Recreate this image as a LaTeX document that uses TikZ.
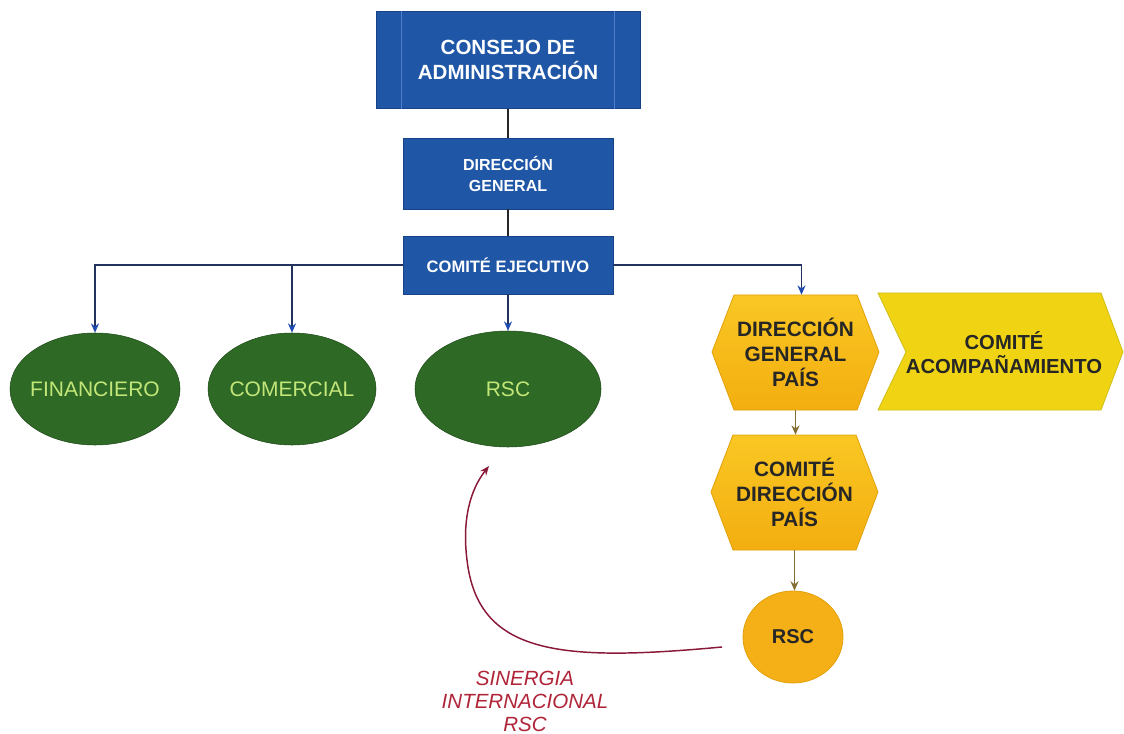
\documentclass[tikz,border=0pt]{standalone}
\usepackage{fontspec}
\setmainfont{Liberation Sans}
\usetikzlibrary{arrows.meta,shapes.geometric}
\def\pxu{0.75pt}
\definecolor{boxblue}{RGB}{31,86,166}
\definecolor{boxedge}{RGB}{24,66,135}
\definecolor{boxline}{RGB}{80,125,200}
\definecolor{linenavy}{RGB}{35,50,95}
\definecolor{tipblue}{RGB}{30,75,175}
\definecolor{ellgreen}{RGB}{47,105,38}
\definecolor{elledge}{RGB}{30,75,25}
\definecolor{elltext}{RGB}{195,230,120}
\definecolor{hextop}{RGB}{249,199,35}
\definecolor{hexbot}{RGB}{243,174,16}
\definecolor{hexedge}{RGB}{225,160,10}
\definecolor{chevfill}{RGB}{240,212,20}
\definecolor{chevedge}{RGB}{205,190,20}
\definecolor{circfill}{RGB}{244,176,22}
\definecolor{darktext}{RGB}{38,38,38}
\definecolor{olivearrow}{RGB}{130,110,50}
\definecolor{curvered}{RGB}{138,24,56}
\definecolor{labelred}{RGB}{176,36,56}
\begin{document}
\begin{tikzpicture}[x=0.75pt,y=-0.75pt,
  bluebox/.style={fill=boxblue,draw=boxedge,text=white,align=center,inner sep=0pt},
  greenell/.style={ellipse,fill=ellgreen,draw=elledge,text=elltext,inner sep=0pt,
    font=\fontsize{15.75}{18}\selectfont},
  yeltext/.style={inner sep=0pt,align=center,text=darktext,
    font=\bfseries\fontsize{15.6}{18.75}\selectfont},
  darkline/.style={draw=black!85,line width=1.1pt},
  bluearrow/.style={draw=linenavy,line width=1.1pt,-{Stealth[length=7pt,width=6pt,color=tipblue]}},
  olivearr/.style={draw=olivearrow,line width=1.1pt,-{Stealth[length=7pt,width=6pt,color=olivearrow]}},
  redcurve/.style={draw=curvered,line width=1.1pt,-{Stealth[length=7pt,width=5.5pt,color=curvered]}}
]
\useasboundingbox (0,0) rectangle (1124,734);
\fill[white] (0,0) rectangle (1124,734);

% blue boxes
\node[bluebox,minimum width={264*\pxu},minimum height={97*\pxu},
  font=\bfseries\fontsize{15.4}{18.75}\selectfont] (cons) at (508,60)
  {CONSEJO DE\\ADMINISTRACIÓN};
\draw[boxline,line width=0.6pt] ([xshift={26*\pxu}]cons.north west) -- ([xshift={26*\pxu}]cons.south west);
\draw[boxline,line width=0.6pt] ([xshift={-26*\pxu}]cons.north east) -- ([xshift={-26*\pxu}]cons.south east);
\node[bluebox,minimum width={210*\pxu},minimum height={71*\pxu},
  font=\bfseries\fontsize{12}{15.75}\selectfont] (dg) at (508,173.5)
  {DIRECCIÓN\\GENERAL};
\node[bluebox,minimum width={210*\pxu},minimum height={58*\pxu},
  font=\bfseries\fontsize{12.4}{15}\selectfont] (ce) at (508,265)
  {COMITÉ EJECUTIVO};

% green ellipses
\node[greenell,minimum width={170*\pxu},minimum height={112*\pxu}] (fin) at (95,389) {\makebox[0pt]{FINANCIERO}};
\node[greenell,minimum width={168*\pxu},minimum height={112*\pxu}] (com) at (292,389) {\makebox[0pt]{COMERCIAL}};
\node[greenell,minimum width={186*\pxu},minimum height={116*\pxu}] (rsc) at (508,389) {\makebox[0pt]{RSC}};

% yellow hexagons
\shade[top color=hextop,bottom color=hexbot,draw=hexedge,line width=0.6pt]
  (712,352) -- (734,295) -- (857,295) -- (879,352) -- (857,410) -- (734,410) -- cycle;
\node[yeltext,minimum width={167*\pxu},minimum height={115*\pxu}] (h1) at (795.5,352.5)
  {DIRECCIÓN\\GENERAL\\PAÍS};
\shade[top color=hextop,bottom color=hexbot,draw=hexedge,line width=0.6pt]
  (711,492) -- (733,435) -- (856,435) -- (878,492) -- (856,550) -- (733,550) -- cycle;
\node[yeltext,minimum width={167*\pxu},minimum height={115*\pxu}] (h2) at (794.5,492.5)
  {COMITÉ\\DIRECCIÓN\\PAÍS};

% chevron
\fill[chevfill,draw=chevedge,line width=0.6pt]
  (878,293) -- (1101,293) -- (1123,352) -- (1101,410) -- (878,410) -- (906,352) -- cycle;
\node[yeltext,font=\bfseries\fontsize{15.2}{18}\selectfont] (ca) at (1004,353)
  {COMITÉ\\ACOMPAÑAMIENTO};

% orange circle
\node[ellipse,fill=circfill,draw=hexedge,line width=0.6pt,minimum width={100*\pxu},
  minimum height={92*\pxu},inner sep=0pt,text=darktext,
  font=\bfseries\fontsize{15}{18}\selectfont] (rsc2) at (793,637) {\makebox[0pt]{RSC}};

% connectors
\draw[darkline] (cons.south) -- (dg.north);
\draw[darkline] (dg.south) -- (ce.north);
\draw[bluearrow] (ce.west) -| (fin.north);
\draw[bluearrow] (ce.west) -| (com.north);
\draw[bluearrow] (ce.south) -- (rsc.north);
\draw[bluearrow] (ce.east) -| ([xshift={6*\pxu}]h1.north);
\draw[olivearr] (h1.south) -- (h1.south |- h2.north);
\draw[olivearr] (h2.south) -- (h2.south |- rsc2.north);

% curved synergy arrow
\coordinate (cs) at (722,647);
\coordinate (ce2) at (489,466);
\draw[redcurve] (cs) .. controls (560,662) and (478,655) .. (467,560)
  .. controls (462,520) and (470,490) .. (ce2);

\node[inner sep=0pt,align=center,text=labelred,
  font=\itshape\fontsize{15.4}{17.25}\selectfont] (lbl) at (525,701)
  {SINERGIA\\INTERNACIONAL\\RSC};
\end{tikzpicture}
\end{document}
